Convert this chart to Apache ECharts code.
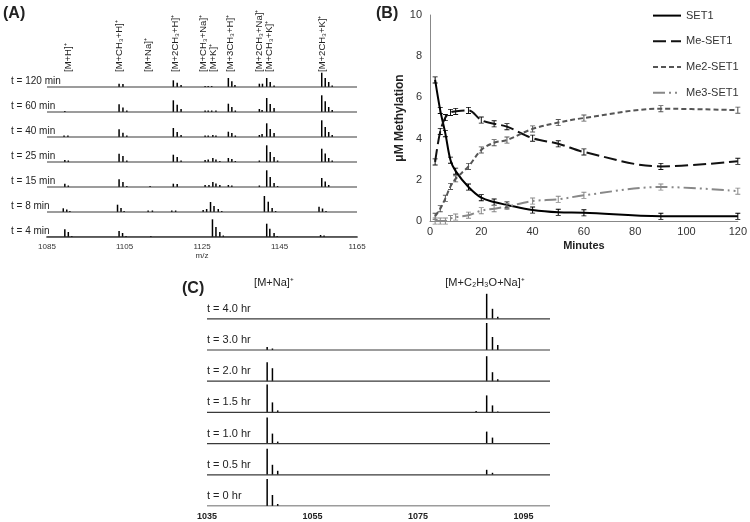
<!DOCTYPE html>
<html><head><meta charset="utf-8">
<script src="https://cdn.jsdelivr.net/npm/echarts@6/dist/echarts.min.js"></script>
<style>html,body{margin:0;padding:0;background:#fff}#c{width:750px;height:522px}</style>
</head><body><div id="c"></div>
<script>
// ---------- Panel A: MALDI spectra, peaks as [m/z, height] ----------
const aLabels = ['t = 120 min','t = 60 min','t = 40 min','t = 25 min','t = 15 min','t = 8 min','t = 4 min'];
const aTicks = [1085, 1105, 1125, 1145, 1165];
const aPeaks120 = [[1103.6,3.3],[1104.6,3],[1117.6,6.7],[1118.6,4.3],[1119.6,2],[1125.8,1],[1126.6,1],[1127.5,1],
  [1131.8,9],[1132.7,5.7],[1133.5,2],[1139.8,3.3],[1140.6,3.3],[1141.7,9],[1142.6,5],[1143.6,1.5],
  [1155.9,14.3],[1156.8,9],[1157.7,5],[1158.6,1.5]];
const aPeaks60 = [[1089.6,1],[1103.6,7.7],[1104.6,4.5],[1105.6,1.5],[1117.6,11.7],[1118.6,7.3],[1119.6,3],
  [1125.8,1.5],[1126.6,1.5],[1127.5,1.5],[1128.6,1.5],[1131.8,8.3],[1132.7,5],[1133.6,1.5],
  [1139.8,3],[1140.5,2],[1141.7,14],[1142.6,8],[1143.6,4],[1155.9,16.7],[1156.8,10.7],[1157.7,5],[1158.6,2]];
const aPeaks40 = [[1089.4,1.5],[1090.4,1.5],[1103.6,7.7],[1104.6,4.3],[1105.6,1.5],[1117.6,9],[1118.6,5],[1119.6,2],
  [1125.8,1.5],[1126.6,1.5],[1127.8,2],[1128.6,1.5],[1131.8,5.3],[1132.7,4],[1133.6,1.5],
  [1139.8,2],[1140.5,3],[1141.7,13.7],[1142.6,8],[1143.6,4],[1155.9,16.7],[1156.8,10],[1157.7,5],[1158.6,2]];
const aPeaks25 = [[1089.6,2],[1090.5,1.5],[1103.6,8.3],[1104.6,6],[1105.6,1.5],[1117.6,7.3],[1118.6,5],[1119.6,1.5],
  [1125.8,2],[1126.6,2.5],[1127.8,4],[1128.6,2.5],[1129.6,1],[1131.8,4],[1132.7,3],[1133.6,1],
  [1139.8,1.5],[1141.7,16.7],[1142.6,10],[1143.6,5],[1144.5,1.5],[1155.9,13.3],[1156.8,8.5],[1157.7,4],[1158.6,1.5]];
const aPeaks15 = [[1089.6,3.3],[1090.5,1.5],[1103.6,7.7],[1104.6,5],[1105.6,1],[1111.6,1],[1117.6,3.3],[1118.6,3],
  [1125.8,2],[1126.8,2],[1127.8,5],[1128.6,3.5],[1129.6,2],[1131.8,2],[1132.7,1.5],[1139.8,1.5],
  [1141.7,16.7],[1142.6,10],[1143.6,4],[1144.5,1],[1155.9,9],[1156.8,5.5],[1157.7,2]];
const aPeaks8 = [[1089.2,3.7],[1090.1,2.5],[1090.9,1],[1103.2,7.3],[1104.1,4],[1104.9,1],[1111.1,1.5],[1112.2,1.5],
  [1117.2,1.5],[1118.2,1.5],[1125.3,2],[1126.2,3],[1127.2,10],[1128.1,6],[1129.2,3],[1130.1,1],
  [1141.1,16],[1142.1,10.3],[1143.1,4],[1144.0,1],[1155.2,5.3],[1156.1,3.5],[1157.0,1]];
const aPeaks4 = [[1089.6,7.7],[1090.5,5],[1091.4,1],[1103.6,6],[1104.5,4],[1105.4,1],[1111.8,1],
  [1127.7,17.7],[1128.6,10],[1129.6,5],[1130.5,1.5],[1141.7,13.3],[1142.5,8.3],[1143.6,4],[1144.4,1],
  [1155.6,2],[1156.5,1.5]];
const aSpectra = [aPeaks120, aPeaks60, aPeaks40, aPeaks25, aPeaks15, aPeaks8, aPeaks4];
const aIons = ['[M+H]⁺','[M+CH₃+H]⁺','[M+Na]⁺','[M+2CH₃+H]⁺','[M+CH₃+Na]⁺\n[M+K]⁺','[M+3CH₃+H]⁺','[M+2CH₃+Na]⁺\n[M+CH₃+K]⁺','[M+2CH₃+K]⁺'];

// ---------- Panel B: methylation time course ----------
const bMinutes = [2, 4, 6, 8, 10, 15, 20, 25, 30, 40, 50, 60, 90, 120];
const bSET1   = [6.85, 5.37, 4.24, 2.95, 2.42, 1.65, 1.13, 0.92, 0.78, 0.53, 0.42, 0.4, 0.23, 0.23];
const bMe     = [2.87, 4.35, 5.02, 5.27, 5.32, 5.37, 4.9, 4.72, 4.58, 4.02, 3.75, 3.35, 2.65, 2.9];
const bMe2    = [0.23, 0.6, 1.1, 1.68, 2.05, 2.65, 3.45, 3.8, 3.93, 4.47, 4.78, 5.0, 5.45, 5.38];
const bMe3    = [0, 0, 0, 0.12, 0.19, 0.28, 0.5, 0.6, 0.7, 0.97, 1.05, 1.25, 1.65, 1.45];
const bNames  = ['SET1', 'Me-SET1', 'Me2-SET1', 'Me3-SET1'];

// ---------- Panel C: acetylation spectra ----------
const cLabels = ['t = 4.0 hr','t = 3.0 hr','t = 2.0 hr','t = 1.5 hr','t = 1.0 hr','t = 0.5 hr','t = 0 hr'];
const cTicks = [1035, 1055, 1075, 1095];
const cMax = 1100;
const cPeaks40 = [[1088.0,25],[1089.1,10],[1090.1,2]];
const cPeaks30 = [[1046.4,3],[1047.4,1.5],[1088.0,27],[1089.1,13],[1090.1,5]];
const cPeaks20 = [[1046.4,19],[1047.4,13],[1088.0,25],[1089.1,9],[1090.1,2]];
const cPeaks15 = [[1046.4,28],[1047.4,10],[1048.4,2],[1086.0,1.5],[1088.0,17],[1089.1,7],[1090.1,1]];
const cPeaks10 = [[1046.4,26],[1047.4,10],[1048.4,2],[1088.0,12],[1089.1,6]];
const cPeaks05 = [[1046.4,26],[1047.4,10],[1048.4,4],[1088.0,5],[1089.1,2]];
const cPeaks00 = [[1046.4,27],[1047.4,11],[1048.4,2]];
const cSpectra = [cPeaks40, cPeaks30, cPeaks20, cPeaks15, cPeaks10, cPeaks05, cPeaks00];

// ---------- helpers ----------
const FONT = 'Liberation Sans, Arial, Helvetica, sans-serif';
const A_STEP = 25, C_STEP = 31.2;
const aBase = i => (aSpectra.length - 1 - i) * A_STEP;
const cBase = i => (cSpectra.length - 1 - i) * C_STEP;
const plain = v => String(v);

const chart = echarts.init(document.getElementById('c'), null, {renderer: 'canvas'});
const series = [];

function addSpectra(spectra, baseFn, axisIdx, xmin, xmax) {
  const rows = [];
  spectra.forEach((pk, i) => {
    const b = baseFn(i);
    series.push({type: 'line', xAxisIndex: axisIdx, yAxisIndex: axisIdx, silent: true, symbol: 'none',
      data: [[xmin, b], [xmax, b]], lineStyle: {color: '#3a3a3a', width: 1.2}});
    pk.forEach(([m, h]) => rows.push([m, h, b]));
  });
  series.push({type: 'custom', xAxisIndex: axisIdx, yAxisIndex: axisIdx, silent: true, data: rows,
    encode: {x: 0, y: 1},
    renderItem: (params, api) => {
      const m = api.value(0), h = api.value(1), b = api.value(2);
      const p0 = api.coord([m, b]), p1 = api.coord([m, b + h]);
      return {type: 'line', shape: {x1: p0[0], y1: p0[1], x2: p1[0], y2: p1[1]},
              style: {stroke: '#000', lineWidth: 1.5}};
    }});
}
addSpectra(aSpectra, aBase, 0, aTicks[0], aTicks[aTicks.length - 1]);

const ibeam = 'path://M0,0H5V1H3V7H5V8H0V7H2V1H0Z';
const bStyles = [
  {color: '#000', type: 'solid'},
  {color: '#111', type: [13, 5]},
  {color: '#555', type: [5, 3]},
  {color: '#888', type: [12, 4, 2, 4, 2, 4]}
];
[bSET1, bMe, bMe2, bMe3].forEach((vals, k) => series.push({
  type: 'line', name: bNames[k], xAxisIndex: 1, yAxisIndex: 1, smooth: 0.35,
  data: bMinutes.map((m, j) => [m, vals[j]]),
  symbol: ibeam, symbolSize: [5, 7], showAllSymbol: true,
  itemStyle: {color: bStyles[k].color},
  lineStyle: {color: bStyles[k].color, width: 2, type: bStyles[k].type}
}));

addSpectra(cSpectra, cBase, 2, cTicks[0], cMax);

const option = {
  animation: false,
  backgroundColor: '#fff',
  textStyle: {fontFamily: FONT},
  grid: [
    {left: 47, width: 310, top: 62, height: 175},
    {left: 430, width: 309, top: 15, height: 206},
    {left: 207, width: 343, top: 286, height: 220}
  ],
  xAxis: [
    {gridIndex: 0, type: 'value', min: aTicks[0], max: aTicks[aTicks.length - 1], interval: 20,
     axisLine: {lineStyle: {color: '#777', width: 2}}, axisTick: {show: false}, splitLine: {show: false},
     axisLabel: {fontSize: 8, color: '#333', margin: 6, fontFamily: FONT, formatter: plain},
     name: 'm/z', nameLocation: 'middle', nameGap: 15, nameTextStyle: {fontSize: 8, color: '#333', fontFamily: FONT}},
    {gridIndex: 1, type: 'value', min: 0, max: 120, interval: 20,
     axisLine: {lineStyle: {color: '#888', width: 1}}, axisTick: {show: false}, splitLine: {show: false},
     axisLabel: {fontSize: 11, color: '#333', margin: 5, fontFamily: FONT, formatter: plain},
     name: 'Minutes', nameLocation: 'middle', nameGap: 19,
     nameTextStyle: {fontSize: 11, fontWeight: 'bold', color: '#222', fontFamily: FONT}},
    {gridIndex: 2, type: 'value', min: cTicks[0], max: cMax, interval: 20,
     axisLine: {show: false}, axisTick: {show: false}, splitLine: {show: false},
     axisLabel: {fontSize: 9, fontWeight: 'bold', color: '#222', margin: 6, showMaxLabel: false, fontFamily: FONT, formatter: plain}}
  ],
  yAxis: [
    {gridIndex: 0, type: 'value', min: 0, max: 175, show: false},
    {gridIndex: 1, type: 'value', min: 0, max: 10, interval: 2,
     axisLine: {show: true, lineStyle: {color: '#888', width: 1}}, axisTick: {show: false}, splitLine: {show: false},
     axisLabel: {fontSize: 11, color: '#333', margin: 8, fontFamily: FONT, formatter: plain},
     name: 'μM Methylation', nameLocation: 'middle', nameGap: 15,
     nameTextStyle: {fontSize: 12, fontWeight: 'bold', color: '#222', fontFamily: FONT}},
    {gridIndex: 2, type: 'value', min: 0, max: 220, show: false}
  ],
  legend: {
    data: bNames, orient: 'vertical', left: 647, top: 5, itemWidth: 28, itemHeight: 14, itemGap: 14.5,
    textStyle: {fontSize: 11, color: '#333', fontFamily: FONT}, itemStyle: {opacity: 0}, selectedMode: false
  },
  series: series
};
chart.setOption(option);

// ---------- text annotations positioned from the axes ----------
const g = [];
const txt = (x, y, text, o = {}) => g.push({type: 'text', x, y, rotation: o.rot || 0, silent: true,
  style: {text, fontSize: o.size || 10, fontWeight: o.weight || 'normal', fill: o.fill || '#222', fontFamily: FONT,
          align: o.align || 'left', verticalAlign: o.va || 'middle', lineHeight: o.lh}});
txt(3, 14, '(A)', {size: 16, weight: 'bold'});
txt(376, 14, '(B)', {size: 16, weight: 'bold'});
txt(182, 289, '(C)', {size: 16, weight: 'bold'});
aLabels.forEach((s, i) => {
  const p = chart.convertToPixel({gridIndex: 0}, [aTicks[0], aBase(i)]);
  txt(11, p[1] - 5.5, s, {size: 10});
});
cLabels.forEach((s, i) => {
  const p = chart.convertToPixel({gridIndex: 2}, [cTicks[0], cBase(i)]);
  txt(p[0], p[1] - 10, s, {size: 11});
});
const ionX = [68, 119, 148, 175, 208, 230, 264, 322];
ionX.forEach((x, k) => txt(x, 72, aIons[k], {size: 9.5, rot: Math.PI / 2, align: 'left', va: 'middle', lh: 10}));
txt(274, 283, '[M+Na]⁺', {size: 11, align: 'center'});
txt(485, 283, '[M+C₂H₃O+Na]⁺', {size: 11, align: 'center'});
chart.setOption({graphic: g});
</script>
</body></html>
